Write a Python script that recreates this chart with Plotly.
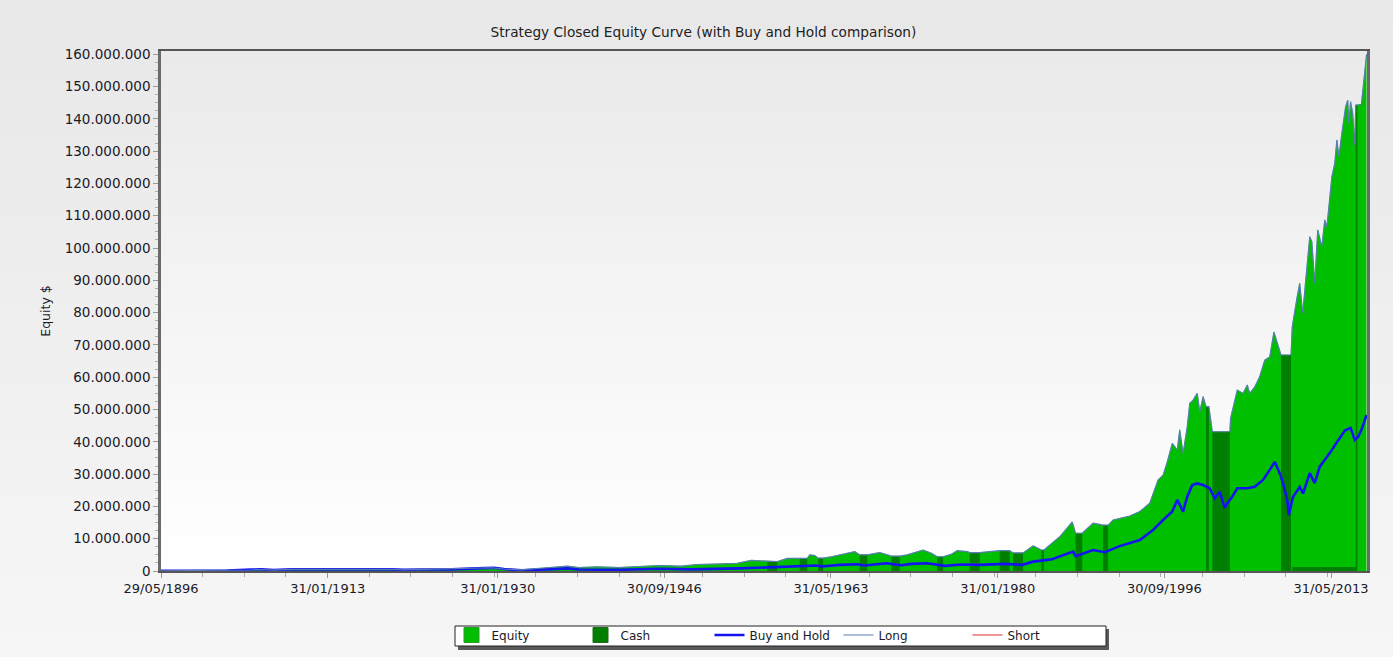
import plotly.graph_objects as go

# ---------------- data (values in millions of $) ----------------
eq_dates = [
    "1896-05-29", "1900-01-15", "1903-01-15", "1905-06-15", "1906-06-15", "1907-09-15",
    "1909-06-15", "1912-06-15", "1914-06-15", "1915-06-15", "1919-06-15", "1920-09-15",
    "1922-06-15", "1925-06-15", "1927-06-15", "1929-06-15", "1930-09-15", "1932-06-15",
    "1933-09-15", "1935-06-15", "1937-01-15", "1938-03-15", "1940-01-15", "1942-03-15",
    "1944-06-15", "1946-03-15", "1948-06-15", "1950-01-15", "1952-06-15", "1954-01-15",
    "1955-06-15", "1956-06-15", "1957-01-15", "1958-01-15", "1959-01-15", "1960-04-15",
    "1961-01-15", "1961-04-15", "1961-10-15", "1962-02-15", "1962-08-15", "1963-06-15",
    "1964-04-15", "1965-10-15", "1966-04-15", "1967-01-15", "1968-04-15", "1969-06-15",
    "1970-04-15", "1971-01-15", "1972-08-15", "1973-06-15", "1974-01-15", "1974-08-15",
    "1975-06-15", "1976-01-15", "1977-01-15", "1977-04-15", "1978-04-15", "1979-01-15",
    "1980-04-15", "1981-04-15", "1981-08-15", "1982-08-15", "1983-08-15", "1984-06-15",
    "1984-09-15", "1985-06-15", "1986-04-15", "1987-07-15", "1987-11-15", "1988-07-15",
    "1989-08-15", "1990-08-15", "1991-02-15", "1991-08-15", "1992-04-15", "1993-04-15",
    "1994-04-15", "1995-04-15", "1996-02-15", "1996-08-15", "1997-01-15", "1997-07-15",
    "1998-01-15", "1998-04-15", "1998-08-15", "1999-01-15", "1999-04-15", "1999-08-15",
    "2000-01-15", "2000-04-15", "2000-08-15", "2000-12-01", "2001-03-15", "2001-05-15",
    "2001-07-20", "2003-04-20", "2003-05-15", "2004-01-15", "2004-08-15", "2005-01-15",
    "2005-04-15", "2005-10-15", "2006-04-15", "2006-10-15", "2007-04-15", "2007-09-15",
    "2008-01-15", "2008-04-15", "2008-06-01", "2009-06-01", "2009-07-15", "2010-01-01",
    "2010-04-15", "2010-08-01", "2010-11-15", "2011-04-15", "2011-07-01", "2011-10-15",
    "2012-02-01", "2012-07-01", "2012-10-15", "2013-01-01", "2013-07-01", "2013-10-15",
    "2014-01-01", "2014-03-15", "2014-07-01", "2014-08-15", "2014-11-15", "2015-02-01",
    "2015-03-15", "2015-05-15", "2015-08-01", "2015-10-15", "2015-11-20", "2016-01-20",
    "2016-06-15", "2016-08-15", "2016-12-20",
]
eq_values = [
    0.10, 0.12, 0.14, 0.30, 0.45, 0.28,
    0.50, 0.55, 0.40, 0.50, 0.55, 0.35,
    0.50, 0.55, 0.70, 1.00, 0.60, 0.35,
    0.70, 1.20, 1.50, 1.10, 1.30, 1.10,
    1.40, 1.70, 1.50, 2.00, 2.20, 2.40,
    3.30, 3.10, 2.90, 2.90, 3.90, 3.90,
    3.90, 5.00, 4.80, 4.00, 4.00, 4.40,
    5.00, 6.00, 5.00, 5.00, 5.70, 4.60,
    4.60, 5.00, 6.50, 5.50, 4.40, 4.40,
    5.20, 6.30, 6.00, 5.70, 5.70, 6.00,
    6.30, 6.30, 5.60, 5.60, 7.80, 6.50,
    6.50, 8.50, 10.60, 15.20, 11.70, 11.70,
    14.80, 14.20, 14.20, 15.80, 16.30, 17.00,
    18.40, 21.00, 28.20, 29.70, 33.80, 39.50,
    37.50, 43.70, 36.40, 44.70, 51.90, 52.90,
    55.00, 49.30, 54.00, 50.90, 50.90, 46.70,
    43.10, 43.10, 47.30, 56.00, 55.00, 57.60,
    55.00, 57.00, 60.20, 65.30, 66.30, 74.00,
    70.60, 67.90, 66.90, 66.90, 75.60, 84.40,
    89.10, 79.80, 90.10, 103.50, 102.00, 89.10,
    105.60, 100.40, 108.70, 106.60, 122.00, 126.20,
    133.40, 128.30, 135.50, 138.60, 143.70, 145.80,
    138.60, 145.30, 141.70, 131.90, 144.30, 144.30,
    144.50, 149.50, 160.00,
]

# periods out of the market (cash)
cash_start = ["1957-01-15", "1960-04-15", "1962-02-15", "1966-04-15", "1969-06-15",
              "1974-01-15", "1977-04-15", "1980-04-15", "1981-08-15", "1984-06-15",
              "1987-11-15", "1990-08-15", "2000-12-01", "2001-07-20", "2008-06-01",
              "2009-07-15", "2015-11-20"]
cash_end = ["1958-01-15", "1961-01-15", "1962-08-15", "1967-01-15", "1970-04-15",
            "1974-08-15", "1978-04-15", "1981-04-15", "1982-08-15", "1984-09-15",
            "1988-07-15", "1991-02-15", "2001-03-15", "2003-04-20", "2009-06-01",
            "2015-11-20", "2016-01-20"]
cash_level = [2.90, 3.90, 4.00, 5.00, 4.60,
              4.40, 5.70, 6.30, 5.60, 6.50,
              11.70, 14.20, 50.90, 43.10, 66.90,
              1.20, 144.30]

bh_dates = [
    "1896-05-29", "1900-01-15", "1903-01-15", "1905-06-15", "1906-06-15", "1907-09-15",
    "1909-06-15", "1912-06-15", "1914-06-15", "1915-06-15", "1919-06-15", "1920-09-15",
    "1922-06-15", "1925-06-15", "1928-01-15", "1929-09-15", "1930-09-15", "1932-06-15",
    "1935-01-15", "1937-01-15", "1938-03-15", "1942-03-15", "1946-03-15", "1949-06-15",
    "1954-04-15", "1958-08-15", "1961-12-15", "1962-06-15", "1964-04-15", "1966-01-15",
    "1966-10-15", "1968-12-15", "1970-06-15", "1971-06-15", "1973-01-15", "1974-10-15",
    "1976-06-15", "1978-03-15", "1980-11-15", "1982-07-15", "1983-08-15", "1985-06-15",
    "1987-08-15", "1987-11-15", "1989-08-15", "1990-10-15", "1991-06-15", "1992-04-15",
    "1994-04-15", "1995-08-15", "1996-08-15", "1997-07-15", "1998-01-15", "1998-08-15",
    "1999-01-15", "1999-07-15", "2000-01-15", "2000-08-15", "2001-04-15", "2001-10-15",
    "2002-04-15", "2002-10-15", "2003-01-15", "2003-07-15", "2004-01-15", "2005-01-15",
    "2005-10-15", "2006-08-15", "2007-04-15", "2007-10-15", "2008-04-15", "2008-08-15",
    "2009-01-15", "2009-03-10", "2009-08-15", "2010-04-15", "2010-08-15", "2011-04-15",
    "2011-10-15", "2012-04-15", "2013-04-15", "2014-01-15", "2014-10-15", "2015-05-15",
    "2015-10-15", "2016-02-15", "2016-06-15", "2016-12-20",
]
bh_values = [
    0.10, 0.12, 0.15, 0.45, 0.50, 0.30,
    0.50, 0.50, 0.35, 0.50, 0.50, 0.35,
    0.45, 0.50, 0.80, 1.00, 0.60, 0.20,
    0.50, 0.80, 0.45, 0.35, 0.70, 0.50,
    0.80, 1.30, 1.70, 1.40, 1.90, 2.10,
    1.70, 2.40, 1.80, 2.20, 2.40, 1.60,
    2.00, 1.90, 2.20, 1.90, 2.90, 3.60,
    6.00, 4.60, 6.50, 5.80, 6.60, 7.70,
    9.60, 12.70, 15.80, 18.40, 22.00, 18.40,
    23.00, 26.60, 27.10, 26.60, 25.60, 22.50,
    24.50, 19.50, 21.00, 23.00, 25.60, 25.60,
    26.10, 28.20, 31.30, 33.80, 30.20, 27.10,
    22.00, 17.30, 23.00, 26.00, 24.00, 30.30,
    27.20, 32.30, 36.50, 40.00, 43.50, 44.30,
    40.60, 41.50, 43.70, 48.30,
]

x_tick_vals = ["1896-05-29", "1913-01-31", "1930-01-31", "1946-09-30",
               "1963-05-31", "1980-01-31", "1996-09-30", "2013-05-31"]
x_tick_text = ["29/05/1896", "31/01/1913", "31/01/1930", "30/09/1946",
               "31/05/1963", "31/01/1980", "30/09/1996", "31/05/2013"]

M = 1e6
FONT = "DejaVu Sans"
EQ_GREEN = "#00BE00"
CASH_GREEN = "#007F00"

# ---------------- layout geometry ----------------
W, H = 1393, 657
L, R, T, B = 161, 26, 51, 86
PW, PH = W - L - R, H - T - B


def px_x(p):
    return (p - L) / PW


def px_y(p):
    return (H - B - p) / PH


def mix(c1, c2, t):
    return "rgb(%d,%d,%d)" % tuple(round(a + (b - a) * t) for a, b in zip(c1, c2))


shapes = []
# figure background gradient
n = 24
for i in range(n):
    y0 = i * H / n
    y1 = (i + 1) * H / n + 1
    shapes.append(dict(type="rect", xref="paper", yref="paper", layer="below",
                       x0=px_x(0), x1=px_x(W), y0=px_y(y1), y1=px_y(y0),
                       line=dict(width=0),
                       fillcolor=mix((232, 232, 232), (246, 246, 246), i / (n - 1))))
# plot area gradient
n = 40
for i in range(n):
    shapes.append(dict(type="rect", xref="paper", yref="paper", layer="below",
                       x0=0, x1=1, y0=1 - (i + 1) / n - 0.002, y1=1 - i / n,
                       line=dict(width=0),
                       fillcolor=mix((234, 234, 234), (255, 255, 255), i / (n - 1))))
# legend box with drop shadow
shapes.append(dict(type="rect", xref="paper", yref="paper", layer="above",
                   x0=px_x(458), x1=px_x(1109), y0=px_y(650), y1=px_y(629),
                   line=dict(width=0), fillcolor="#5a5a5a"))
shapes.append(dict(type="rect", xref="paper", yref="paper", layer="above",
                   x0=px_x(455), x1=px_x(1106), y0=px_y(646), y1=px_y(626),
                   line=dict(width=1, color="#222222"), fillcolor="#FFFFFF"))

# ---------------- traces ----------------
eq_y = [v * M for v in eq_values]
bh_y = [v * M for v in bh_values]

cash_x, cash_y = [], []
for s, e, lv in zip(cash_start, cash_end, cash_level):
    cash_x += [s, s, e, e, s, None]
    cash_y += [0, lv * M, lv * M, 0, 0, None]

fig = go.Figure()
fig.add_trace(go.Scatter(x=eq_dates, y=eq_y, name="Equity", mode="lines",
                         fill="tozeroy", fillcolor=EQ_GREEN, showlegend=False,
                         line=dict(color=EQ_GREEN, width=0.5)))
fig.add_trace(go.Scatter(x=cash_x, y=cash_y, name="Cash", mode="lines",
                         fill="toself", fillcolor=CASH_GREEN, showlegend=False,
                         line=dict(color=CASH_GREEN, width=0)))
# legend swatches for the two areas
fig.add_trace(go.Scatter(x=[None], y=[None], name="Equity", mode="markers",
                         marker=dict(symbol="square", size=15, color=EQ_GREEN,
                                     line=dict(color="#2a9a2a", width=1))))
fig.add_trace(go.Scatter(x=[None], y=[None], name="Cash", mode="markers",
                         marker=dict(symbol="square", size=15, color=CASH_GREEN,
                                     line=dict(color="#1f6a1f", width=1))))
fig.add_trace(go.Scatter(x=bh_dates, y=bh_y, name="Buy and Hold", mode="lines",
                         line=dict(color="#1414F0", width=2.6)))
fig.add_trace(go.Scatter(x=eq_dates, y=eq_y, name="Long", mode="lines",
                         line=dict(color="#5A7DB4", width=1.1)))
fig.add_trace(go.Scatter(x=[eq_dates[0]], y=[None], name="Short", mode="lines",
                         line=dict(color="#E03030", width=1.2)))

fig.update_layout(
    width=W, height=H,
    margin=dict(l=L, r=R, t=T, b=B, autoexpand=False),
    paper_bgcolor="#ECECEC",
    plot_bgcolor="rgba(0,0,0,0)",
    separators=",.",
    font=dict(family=FONT, size=13, color="#1a1a2a"),
    title=dict(text="Strategy Closed Equity Curve (with Buy and Hold comparison)",
               x=0.505, xref="container", xanchor="center",
               y=1 - 32 / H, yref="container", yanchor="middle",
               font=dict(family=FONT, size=13.7, color="#222222")),
    showlegend=True,
    legend=dict(orientation="h", x=px_x(451.5), xanchor="left", y=px_y(620.5), yanchor="top",
                bgcolor="rgba(0,0,0,0)", borderwidth=0,
                font=dict(family=FONT, size=12, color="#1a1a2a"),
                entrywidth=84, entrywidthmode="pixels",
                traceorder="normal", itemclick=False, itemdoubleclick=False),
    shapes=shapes,
    hovermode=False,
)

fig.update_xaxes(
    type="date",
    range=["1896-05-29", "2017-01-05"],
    tickmode="array", tickvals=x_tick_vals, ticktext=x_tick_text,
    ticks="outside", ticklen=5, tickcolor="#9a9a9a", tickwidth=1,
    tickfont=dict(family=FONT, size=13, color="#1a1a2a"),
    showgrid=False, zeroline=False,
    showline=True, linecolor="#555555", linewidth=1.5, mirror=True,
    minor=dict(ticks="outside", ticklen=4, tickcolor="#aaaaaa",
               tick0="1896-05-29", dtick="M50", showgrid=False),
)
fig.update_yaxes(
    range=[0, 161e6],
    dtick=10e6, tick0=0, tickformat=",d",
    ticks="outside", ticklen=5, tickcolor="#9a9a9a", tickwidth=1,
    tickfont=dict(family=FONT, size=13.5, color="#1a1a2a"),
    showgrid=False, zeroline=False,
    showline=True, linecolor="#6a6a6a", linewidth=2.5, mirror=True,
    minor=dict(ticks="outside", ticklen=3, tickcolor="#b0b0b0", dtick=2.5e6, showgrid=False),
    title=dict(text="Equity $", standoff=12, font=dict(family=FONT, size=12.5, color="#1a1a2a")),
)

fig.write_html(
    "out.html",
    config={"displayModeBar": False},
    post_script="document.body.style.margin='0px';document.body.style.padding='0px';"
                "document.documentElement.style.overflow='hidden';",
)
